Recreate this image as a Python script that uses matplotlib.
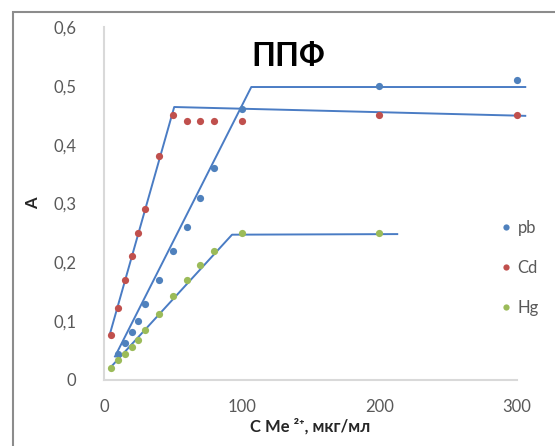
import numpy as np
import matplotlib
matplotlib.use('Agg')
import matplotlib.pyplot as plt
from matplotlib.patches import Rectangle
from matplotlib.lines import Line2D

# concentrations, мкг/мл
pb_x = [10, 15, 20, 25, 30, 40, 50, 60, 70, 80, 100, 200, 300]
pb_y = [0.045, 0.063, 0.082, 0.10, 0.13, 0.17, 0.22, 0.26, 0.31, 0.36, 0.46, 0.50, 0.51]

cd_x = [5, 10, 15, 20, 25, 30, 40, 50, 60, 70, 80, 100, 200, 300]
cd_y = [0.077, 0.122, 0.17, 0.21, 0.25, 0.29, 0.38, 0.45, 0.44, 0.44, 0.44, 0.44, 0.45, 0.45]

hg_x = [5, 10, 15, 20, 25, 30, 40, 50, 60, 70, 80, 100, 200]
hg_y = [0.02, 0.034, 0.044, 0.056, 0.068, 0.085, 0.112, 0.143, 0.17, 0.195, 0.22, 0.25, 0.25]

# hand-drawn trend lines (break points)
pb_line_x = [8, 107, 306]
pb_line_y = [0.040, 0.498, 0.498]
cd_line_x = [4.5, 51, 306]
cd_line_y = [0.080, 0.464, 0.449]
hg_line_x = [5, 93, 213]
hg_line_y = [0.022, 0.247, 0.248]

xticks = [0, 100, 200, 300]
yticks = [0, 0.1, 0.2, 0.3, 0.4, 0.5, 0.6]
ytick_labels = ['0', '0,1', '0,2', '0,3', '0,4', '0,5', '0,6']

def main():
    plt.rcParams['font.family'] = ['Lato', 'DejaVu Sans']
    c_pb = '#4F81BD'
    c_cd = '#C0504D'
    c_hg = '#9BBB59'
    c_line = '#4A7CC4'

    fig = plt.figure(figsize=(5.55, 4.46), dpi=100)
    ax = fig.add_axes([104/555, 1 - 380/446, 413/555, 353/446])

    # outer chart border
    fig.patches.append(Rectangle((13/555, -0.05), 1.0, 1 - 12/446 + 0.05,
                                 transform=fig.transFigure, fill=False,
                                 edgecolor='#8c8c8c', lw=1.5))

    for lx, ly in [(pb_line_x, pb_line_y), (cd_line_x, cd_line_y), (hg_line_x, hg_line_y)]:
        ax.plot(lx, ly, color=c_line, lw=1.4, clip_on=False, zorder=2)

    ax.plot(pb_x, pb_y, 'o', color=c_pb, ms=5.2, mec='none', clip_on=False, zorder=3)
    ax.plot(cd_x, cd_y, 'o', color=c_cd, ms=5.2, mec='none', clip_on=False, zorder=3)
    ax.plot(hg_x, hg_y, 'o', color=c_hg, ms=5.2, mec='none', clip_on=False, zorder=3)

    ax.set_xlim(0, 300)
    ax.set_ylim(0, 0.6)
    ax.set_xticks(xticks)
    ax.set_xticklabels([str(t) for t in xticks])
    ax.set_yticks(yticks)
    ax.set_yticklabels(ytick_labels)
    ax.tick_params(length=0, labelsize=12, labelcolor='#595959')
    ax.tick_params(axis='y', pad=20)
    ax.tick_params(axis='x', pad=14)
    for s in ['top', 'right']:
        ax.spines[s].set_visible(False)
    for s in ['left', 'bottom']:
        ax.spines[s].set_color('#d9d9d9')
        ax.spines[s].set_linewidth(1.5)

    ax.set_ylabel('A', fontsize=12, fontweight='bold', color='#262626', labelpad=9)
    ax.set_xlabel('C Me ²⁺, мкг/мл', fontsize=12, fontweight='bold', color='#262626', labelpad=2)
    fig.text(288/555, 1 - 57/446, 'ППФ', fontsize=23, fontweight='bold',
             ha='center', va='center', color='black')

    handles = [Line2D([], [], ls='none', marker='o', ms=4.5, color=c, mec='none')
               for c in (c_pb, c_cd, c_hg)]
    ax.legend(handles, ['pb', 'Cd', 'Hg'], loc='center left', frameon=False,
              bbox_to_anchor=(0.961, 1 - (268 - 27) / 353), fontsize=12,
              borderaxespad=0, borderpad=0,
              labelspacing=1.45, handlelength=0.6, handletextpad=0.4,
              labelcolor='#595959')

    fig.savefig('out.png', dpi=100)
    plt.close(fig)

if __name__ == "__main__":
    main()
